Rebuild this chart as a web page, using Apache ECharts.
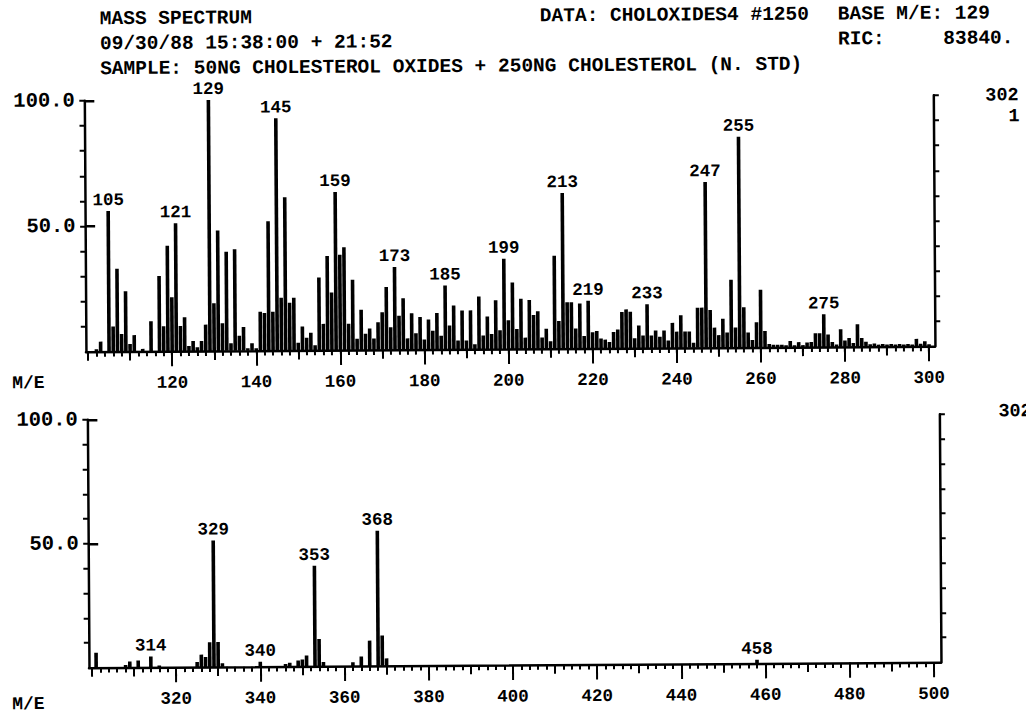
<!DOCTYPE html>
<html>
<head>
<meta charset="utf-8">
<script src="https://cdn.jsdelivr.net/npm/echarts@6/dist/echarts.min.js"></script>
<style>
  html, body { margin: 0; padding: 0; background: #fff; overflow: hidden; }
  #chart { width: 1026px; height: 715px; background: #fff;
           transform: rotate(-0.37deg); transform-origin: 50% 50%; }
</style>
</head>
<body>
<div id="chart"></div>
<script>
// ---- Spectrum, m/e 100-300 (relative intensity, % of base peak 129) ----
const upperMz = [
  102,103,105,106,107,108,109,110,111,113,115,117,118,119,120,121,122,123,124,125,
  126,127,128,129,130,131,132,133,134,135,136,137,138,139,140,141,142,143,144,145,
  146,147,148,149,150,151,152,153,154,155,156,157,158,159,160,161,162,163,164,165,
  166,167,168,169,170,171,172,173,174,175,176,177,178,179,180,181,182,183,184,185,
  186,187,188,189,190,191,192,193,194,195,196,197,198,199,200,201,202,203,204,205,
  206,207,208,209,210,211,212,213,214,215,216,217,218,219,220,221,222,223,224,225,
  226,227,228,229,230,231,232,233,234,235,236,237,238,239,240,241,242,243,244,245,
  246,247,248,249,250,251,252,253,254,255,256,257,258,259,260,261,262,263,264,265,
  266,267,268,269,270,271,272,273,274,275,276,277,278,279,280,281,282,283,284,285,
  286,287,288,289,290,291,292,293,294,295,296,297,298,299,300
];
const upperIntensity = [
  1,4,56,10,33,7,24,3,6.5,1,12,30,10,42,21.5,51,10,13.5,2,4,
  1.5,4,10.5,100,19,48,11,39.5,3,40.5,6,9.5,1,3,1,15.5,15,51.5,15.5,92.5,
  21,61,19,21,3,9.5,5,7,2,29,10.5,37.5,23,63,38,41,10.5,28,4.5,16,
  6.5,8.5,4.5,11,15,25,9,33,13.5,20.5,4.5,14.5,6.5,13,4,12,7.5,14.5,5.5,25.5,
  9.5,17.5,3.5,15.5,3.5,15.5,2,21,5.5,13,6,19.5,7.5,36,11.5,26.5,8,20,4.5,19.5,
  13.5,15,4.5,8,3,37,11,62,18.5,18.5,8,18,5,19,6.5,7,4,3.5,2.5,6.5,
  7.5,14.5,15.5,14.5,4,9,5,17.5,5,7,4.5,7,3,10,6.5,13,6.5,6.5,2,16,
  16,66,15,8,5,11.5,6,27,8,84,16,6,3,10,23,6.5,1.3,1,1,1,
  0.8,2.5,0.8,2,0.8,1.8,2,5.5,5.5,13,5,2,1,7,2.5,3.5,1.5,9,3.5,2,
  1,1.3,0.8,1,0.8,1,0.8,1,0.8,1,0.8,3,1,2,0.8
];
const upperLabelled = [105,121,129,145,159,173,185,199,213,219,233,247,255,275];

// ---- Spectrum, m/e 300-500 ----
const lowerMz = [301,308,309,311,314,316,325,326,327,328,329,330,331,340,346,347,349,350,351,353,354,355,362,364,366,368,369,370,458];
const lowerIntensity = [6,1,2.4,2.8,4.4,0.7,2,5,4,10,51,10,1.5,2,1,1.5,2.4,2.8,4.4,40.5,11,1.7,1.5,3.8,10.2,54.5,12.2,3,1.5];
const lowerLabelled = [314,329,340,353,368,458];

// ---- Axis ranges and tick steps ----
const upperRange = [100, 300];      // labelled m/e span of the upper plot
const lowerRange = [300, 500];      // labelled m/e span of the lower plot
const massLabelStep = 20;           // 120, 140, ... / 320, 340, ...
const yLabelValues = [50, 100];     // 50.0 and 100.0

const FONT = "'Liberation Mono', 'DejaVu Sans Mono', monospace";
const INK = '#000';
const tickStyle = { color: INK, width: 2 };

// Plot frames: the frame runs slightly past the labelled m/e span on both sides.
const panels = [
  { left: 86, top: 98, width: 849, height: 251, min: 99.5, max: 301.4,
    range: upperRange, mz: upperMz, intensity: upperIntensity, labelled: upperLabelled },
  { left: 87, top: 417, width: 852, height: 248, min: 299.3, max: 501.7,
    range: lowerRange, mz: lowerMz, intensity: lowerIntensity, labelled: lowerLabelled }
];

const grid = [], xAxis = [], yAxis = [], series = [];

function addGrid(g) { grid.push(g); return grid.length - 1; }
function hiddenX(gridIndex) { xAxis.push({ type: 'value', gridIndex, show: false, position: 'top' }); return xAxis.length - 1; }
function hiddenY(gridIndex) { yAxis.push({ type: 'value', gridIndex, show: false, min: 0, max: 100 }); return yAxis.length - 1; }

panels.forEach(p => {
  const unit = p.width / (p.max - p.min);

  // main frame: baseline, both vertical axes, the peaks
  const gMain = addGrid({ left: p.left, top: p.top, width: p.width, height: p.height });
  xAxis.push({
    type: 'value', gridIndex: gMain, min: p.min, max: p.max, position: 'bottom',
    axisLine: { show: true, lineStyle: { color: INK, width: 2.5 } },
    axisTick: { show: false }, axisLabel: { show: false }, splitLine: { show: false }
  });
  const xMain = xAxis.length - 1;
  yAxis.push({
    type: 'value', gridIndex: gMain, min: 0, max: 100, interval: 50, position: 'left',
    axisLine: { show: true, lineStyle: { color: INK, width: 2.5 } },
    axisTick: { show: false }, splitLine: { show: false },
    axisLabel: { margin: 9.5, color: INK, fontFamily: FONT, fontWeight: 'bold', fontSize: 20.5,
                 formatter: v => yLabelValues.includes(v) ? v.toFixed(1) : '' }
  });
  const yMain = yAxis.length - 1;
  yAxis.push({
    type: 'value', gridIndex: gMain, min: 0, max: 100, position: 'right',
    axisLine: { show: true, lineStyle: { color: INK, width: 2.5 } },
    axisTick: { show: false }, axisLabel: { show: false }, splitLine: { show: false }
  });

  series.push({
    type: 'bar', xAxisIndex: xMain, yAxisIndex: yMain,
    barWidth: 3.6, itemStyle: { color: INK }, z: 3,
    label: { show: false, position: 'top', distance: 4, color: INK, lineHeight: 14,
             fontFamily: FONT, fontWeight: 'bold', fontSize: 17.5,
             formatter: d => String(d.value[0]) },
    data: p.mz.map((m, i) => ({ value: [m, p.intensity[i]], label: { show: p.labelled.includes(m) } }))
  });

  // m/e ticks below the baseline: short every 2, medium every 10, long + label every 20
  const gTicks = addGrid({ left: p.left + (p.range[0] - p.min) * unit, top: p.top,
                           width: (p.range[1] - p.range[0]) * unit, height: p.height });
  [[2, 5], [10, 9], [massLabelStep, 15]].forEach(([step, len], k) => {
    xAxis.push({
      type: 'value', gridIndex: gTicks, min: p.range[0], max: p.range[1], interval: step,
      position: 'bottom', offset: 0,
      axisLine: { show: false }, splitLine: { show: false },
      axisTick: { show: true, length: len, lineStyle: tickStyle },
      axisLabel: k === 2
        ? { show: true, showMinLabel: false, margin: 22.5, color: INK,
            fontFamily: FONT, fontWeight: 'bold', fontSize: 17.5 }
        : { show: false }
    });
  });
  hiddenY(gTicks);

  // intensity ticks every 10 % on both sides (zero left out)
  const gTen = addGrid({ left: p.left, top: p.top, width: p.width, height: p.height * 0.9 });
  hiddenX(gTen);
  [['left', 5], ['right', 5.5]].forEach(([pos, len]) => {
    yAxis.push({
      type: 'value', gridIndex: gTen, min: 10, max: 100, interval: 10, position: pos,
      axisLine: { show: false }, splitLine: { show: false }, axisLabel: { show: false },
      axisTick: { show: true, length: len, lineStyle: tickStyle }
    });
  });

  // longer right-hand ticks at 50 % and 100 %
  const gHalf = addGrid({ left: p.left, top: p.top, width: p.width, height: p.height * 0.5 });
  hiddenX(gHalf);
  yAxis.push({
    type: 'value', gridIndex: gHalf, min: 50, max: 100, interval: 50, position: 'right',
    axisLine: { show: false }, splitLine: { show: false }, axisLabel: { show: false },
    axisTick: { show: true, length: 10, lineStyle: { color: INK, width: 2.5 } }
  });
});

function headerText(text, x, y, size) {
  return {
    type: 'text', x, y,
    style: { text, fill: INK, fontFamily: FONT, fontWeight: 'bold',
             fontSize: size || 19.5, lineHeight: 18, verticalAlign: 'middle', align: 'left' }
  };
}

const chart = echarts.init(document.getElementById('chart'), null, { renderer: 'svg' });

chart.setOption({
  animation: false,
  backgroundColor: '#fff',
  grid, xAxis, yAxis, series,
  graphic: [
    headerText('MASS SPECTRUM', 102, 16.5),
    headerText('DATA: CHOLOXIDES4 #1250', 542, 16.5),
    headerText('BASE M/E: 129', 840, 16.5),
    headerText('09/30/88 15:38:00 + 21:52', 102, 41.5),
    headerText('RIC:     83840.', 840, 41.5),
    headerText('SAMPLE: 50NG CHOLESTEROL OXIDES + 250NG CHOLESTEROL (N. STD)', 102, 66.5),
    headerText('302', 987, 99, 18.5),
    headerText('1', 1010, 120, 18.5),
    headerText('302', 998, 415, 18.5),
    headerText('M/E', 12, 380, 18),
    headerText('M/E', 10, 701, 18)
  ]
});
</script>
</body>
</html>
